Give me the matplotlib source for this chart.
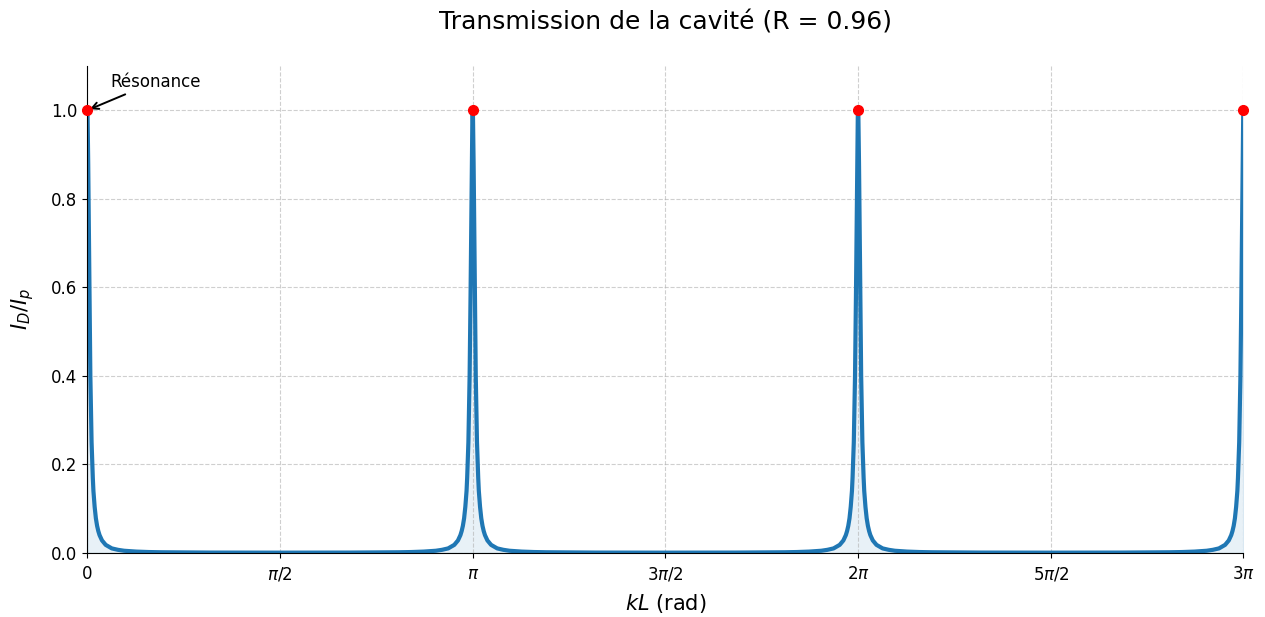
import numpy as np
import matplotlib.pyplot as plt

# demi-profil d'un pic de resonance (ecart a la resonance en rad, transmission)
ecart = [0.0, 0.0025, 0.005, 0.0075, 0.01, 0.0125, 0.015, 0.0175, 0.02,
         0.025, 0.03, 0.035, 0.04, 0.045, 0.05, 0.06, 0.07, 0.08, 0.09, 0.1,
         0.12, 0.15, 0.2, 0.25, 0.3, 0.4, 0.5, 0.6, 0.8, 1.0, 1.2, np.pi / 2]
transmission = [1.0, 0.985, 0.94, 0.88, 0.81, 0.73, 0.65, 0.58, 0.51,
                0.40, 0.32, 0.25, 0.21, 0.17, 0.14, 0.104, 0.078, 0.061, 0.049, 0.040,
                0.028, 0.018, 0.010, 0.0068, 0.0047, 0.0028, 0.0018, 0.0013, 0.00084,
                0.0006, 0.0005, 0.00042]

# positions des resonances
pics = [0, np.pi, 2 * np.pi, 3 * np.pi]
pics_T = [1.0, 1.0, 1.0, 1.0]

ticks = [0, np.pi / 2, np.pi, 3 * np.pi / 2, 2 * np.pi, 5 * np.pi / 2, 3 * np.pi]
tick_labels = ['0', r'$\pi/2$', r'$\pi$', r'$3\pi/2$', r'$2\pi$', r'$5\pi/2$', r'$3\pi$']

# construction de la courbe complete a partir du demi-profil
e = np.array(ecart)
t = np.array(transmission)
x = []
y = []
for p in pics:
    x += list(p - e[::-1]) + list(p + e[1:])
    y += list(t[::-1]) + list(t[1:])
x = np.array(x)
y = np.array(y)
garde = (x >= 0) & (x <= 3 * np.pi)
x = x[garde]
y = y[garde]

fig = plt.figure(figsize=(12.65, 6.17), dpi=100)
ax = fig.add_axes([0.069, 0.104, 0.914, 0.789])

ax.plot(x, y, color='#1f77b4', lw=3)
ax.fill_between(x, 0, y, color='#1f77b4', alpha=0.1)
ax.plot(pics, pics_T, 'o', color='red', ms=7, zorder=5, clip_on=False)

ax.annotate('Résonance', xy=(0, 1.0), xytext=(0.19, 1.065),
            fontsize=12, ha='left', va='center',
            arrowprops=dict(arrowstyle='->', color='black', lw=1.4))

ax.set_xlim(0, 3 * np.pi)
ax.set_ylim(0, 1.1)
ax.set_xticks(ticks)
ax.set_xticklabels(tick_labels)
ax.tick_params(labelsize=12)
ax.tick_params(axis='x', pad=5.5)
ax.set_xlabel(r'$kL$ (rad)', fontsize=15, labelpad=6)
ax.set_ylabel(r'$I_D/I_p$', fontsize=15, labelpad=11)
ax.set_title('Transmission de la cavité (R = 0.96)', fontsize=18, pad=26)
ax.grid(True, linestyle='--', alpha=0.6)
ax.spines['top'].set_visible(False)
ax.spines['right'].set_visible(False)

plt.savefig('out.png', dpi=100)
